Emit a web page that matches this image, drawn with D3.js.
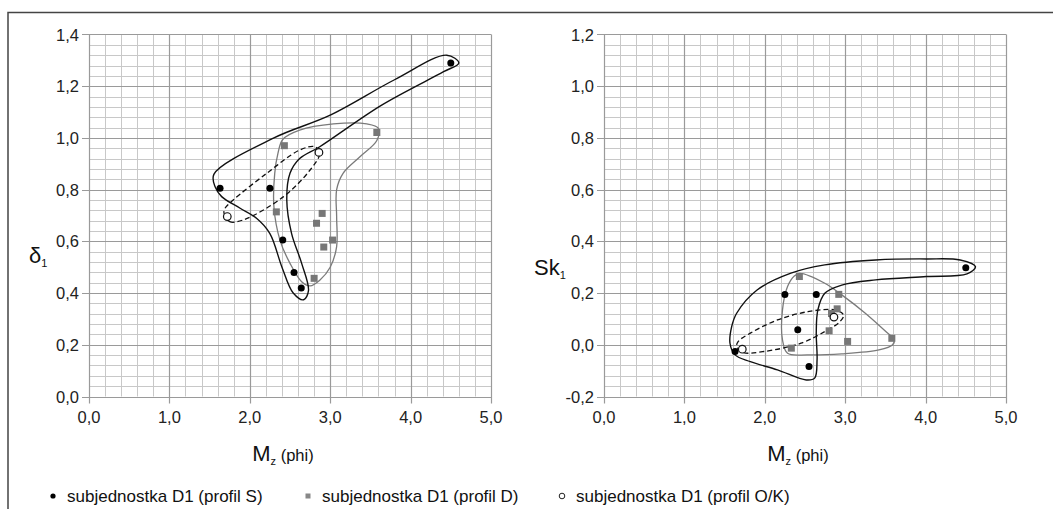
<!DOCTYPE html>
<html>
<head>
<meta charset="utf-8">
<script src="https://cdn.jsdelivr.net/npm/d3@7"></script>
<style>
  body { margin: 0; background: #fff; }
  svg { display: block; font-family: "Liberation Sans", Arial, sans-serif; }
  .tick-label { font-size: 16.5px; fill: #222; }
  .legend-text { font-size: 17px; fill: #111; }
</style>
</head>
<body>
<svg width="1053" height="509"></svg>
<script>
// values
// profil S (black dots)
const mzS = [1.63, 2.25, 2.41, 2.55, 2.64, 4.50];
const sortS = [0.805, 0.805, 0.605, 0.48, 0.42, 1.29];
const skewS = [-0.026, 0.194, 0.058, -0.084, 0.194, 0.298];

// profil D (grey squares)
const mzD = [2.43, 2.33, 2.83, 2.90, 3.03, 2.92, 2.80, 3.58];
const sortD = [0.97, 0.714, 0.67, 0.708, 0.605, 0.578, 0.457, 1.021];
const skewD = [0.264, -0.013, 0.121, 0.139, 0.013, 0.195, 0.054, 0.025];

// profil O/K (open circles)
const mzOK = [1.72, 2.86];
const sortOK = [0.696, 0.944];
const skewOK = [-0.017, 0.107];

// hand-drawn envelopes (Mz, value)
const envSortS = [[1.553, 0.859], [2.3, 1.0], [3.0, 1.088], [3.8, 1.225], [4.45, 1.32], [4.6, 1.29],
  [4.41, 1.256], [3.64, 1.127], [2.87, 0.966], [2.62, 0.92], [2.5, 0.863], [2.46, 0.76], [2.52, 0.63],
  [2.645, 0.515], [2.73, 0.41], [2.67, 0.374], [2.54, 0.40], [2.40, 0.50], [2.25, 0.63], [2.08, 0.69],
  [1.88, 0.728], [1.65, 0.773], [1.57, 0.81]];
const envSortD = [[2.41, 0.994], [2.62, 1.03], [3.04, 1.054], [3.455, 1.054], [3.60, 1.037], [3.58, 0.99],
  [3.37, 0.927], [3.16, 0.863], [3.08, 0.80], [3.08, 0.695], [3.08, 0.58], [3.0, 0.50], [2.87, 0.45],
  [2.75, 0.428], [2.645, 0.444], [2.50, 0.515], [2.375, 0.605], [2.30, 0.734], [2.31, 0.863], [2.35, 0.94]];
const envSortOK = [[1.68, 0.708], [1.75, 0.676], [1.92, 0.683], [2.42, 0.773], [2.75, 0.876], [2.87, 0.94],
  [2.81, 0.966], [2.62, 0.953], [2.21, 0.863], [1.794, 0.76], [1.69, 0.727]];

const envSkewS = [[1.65, 0.122], [1.904, 0.212], [2.325, 0.277], [2.746, 0.309], [3.378, 0.328], [4.01, 0.332],
  [4.43, 0.328], [4.62, 0.302], [4.515, 0.274], [4.01, 0.264], [3.378, 0.251], [2.957, 0.231], [2.746, 0.199],
  [2.66, 0.135], [2.64, 0.045], [2.65, -0.058], [2.62, -0.129], [2.515, -0.136], [2.157, -0.097],
  [1.82, -0.065], [1.63, -0.039], [1.567, 0.006], [1.588, 0.07]];
const envSkewD = [[2.435, 0.276], [2.746, 0.238], [2.957, 0.193], [3.25, 0.122], [3.505, 0.051], [3.61, 0.019],
  [3.59, 0.0], [3.42, -0.02], [2.957, -0.035], [2.536, -0.039], [2.283, -0.033], [2.22, 0.019],
  [2.22, 0.135], [2.283, 0.225], [2.367, 0.266]];
const envSkewOK = [[1.65, -0.007], [1.735, -0.03], [1.99, -0.026], [2.45, 0.006], [2.746, 0.051], [2.936, 0.09],
  [2.98, 0.115], [2.873, 0.135], [2.536, 0.128], [2.157, 0.096], [1.82, 0.045], [1.67, 0.013]];

const xTicks = [0, 1, 2, 3, 4, 5];
const legendLabels = ["subjednostka D1 (profil S)", "subjednostka D1 (profil D)", "subjednostka D1 (profil O/K)"];

const svg = d3.select("svg");

// outer frame (only left and top edges are in the crop)
svg.append("path")
  .attr("d", "M8,509V12.5H1053")
  .attr("fill", "none")
  .attr("stroke", "#444")
  .attr("stroke-width", 1.5);

const fmt = v => d3.format(".1f")(v).replace(".", ",").replace("−", "-");

const panels = [
  { left: 89, right: 491, yDomain: [0, 1.4], y: [sortS, sortD, sortOK],
    env: [envSortS, envSortD, envSortOK], title: "δ", titleX: 29, titleY: 263 },
  { left: 604, right: 1006, yDomain: [-0.2, 1.2], y: [skewS, skewD, skewOK],
    env: [envSkewS, envSkewD, envSkewOK], title: "Sk", titleX: 534, titleY: 275 }
];
const plotTop = 34.5, plotBottom = 396.5;

panels.forEach(function (p) {
  const x = d3.scaleLinear().domain([0, 5]).range([p.left, p.right]);
  const y = d3.scaleLinear().domain(p.yDomain).range([plotBottom, plotTop]);
  const g = svg.append("g");

  // minor grid
  const xMinor = d3.range(0, 5.0001, 0.2);
  const yMinor = d3.range(p.yDomain[0], p.yDomain[1] + 0.0001, 0.04);
  g.selectAll("line.xm").data(xMinor).enter().append("line")
    .attr("x1", d => Math.round(x(d)) + 0.5).attr("x2", d => Math.round(x(d)) + 0.5)
    .attr("y1", plotTop).attr("y2", plotBottom)
    .attr("stroke", "#c8c8c8").attr("stroke-width", 1);
  g.selectAll("line.ym").data(yMinor).enter().append("line")
    .attr("y1", d => Math.round(y(d)) + 0.5).attr("y2", d => Math.round(y(d)) + 0.5)
    .attr("x1", p.left).attr("x2", p.right)
    .attr("stroke", "#c8c8c8").attr("stroke-width", 1);

  // major grid
  const yMajor = d3.range(p.yDomain[0], p.yDomain[1] + 0.0001, 0.2);
  g.selectAll("line.xM").data(xTicks).enter().append("line")
    .attr("x1", d => Math.round(x(d)) + 0.5).attr("x2", d => Math.round(x(d)) + 0.5)
    .attr("y1", plotTop).attr("y2", plotBottom + 7)
    .attr("stroke", "#9a9a9a").attr("stroke-width", 1.2);
  g.selectAll("line.yM").data(yMajor).enter().append("line")
    .attr("y1", d => Math.round(y(d)) + 0.5).attr("y2", d => Math.round(y(d)) + 0.5)
    .attr("x1", p.left - 7).attr("x2", p.right)
    .attr("stroke", "#9a9a9a").attr("stroke-width", 1.2);

  // tick labels
  g.selectAll("text.yl").data(yMajor).enter().append("text")
    .attr("class", "tick-label")
    .attr("x", p.left - 10).attr("y", d => y(d) + 6)
    .attr("text-anchor", "end")
    .text(d => fmt(Math.round(d * 10) / 10));
  g.selectAll("text.xl").data(xTicks).enter().append("text")
    .attr("class", "tick-label")
    .attr("x", d => x(d)).attr("y", plotBottom + 26)
    .attr("text-anchor", "middle")
    .text(d => fmt(d));

  // axis titles
  const xt = g.append("text")
    .attr("x", (p.left + p.right) / 2 - 7).attr("y", 461)
    .attr("text-anchor", "middle").attr("fill", "#111");
  xt.append("tspan").attr("font-size", 22).text("M");
  xt.append("tspan").attr("font-size", 11).attr("dy", 4).text("z");
  xt.append("tspan").attr("font-size", 16.5).attr("dy", -4).text(" (phi)");

  const yt = g.append("text")
    .attr("x", p.titleX).attr("y", p.titleY).attr("fill", "#111");
  yt.append("tspan").attr("font-size", 22).text(p.title);
  yt.append("tspan").attr("font-size", 11).attr("dy", 4).text("1");

  // envelopes
  const line = d3.line()
    .x(d => x(d[0])).y(d => y(d[1]))
    .curve(d3.curveCatmullRomClosed.alpha(0.5));
  g.append("path").datum(p.env[1]).attr("d", line)
    .attr("fill", "none").attr("stroke", "#7a7a7a").attr("stroke-width", 1.3);
  g.append("path").datum(p.env[0]).attr("d", line)
    .attr("fill", "none").attr("stroke", "#111").attr("stroke-width", 1.4);
  g.append("path").datum(p.env[2]).attr("d", line)
    .attr("fill", "none").attr("stroke", "#111").attr("stroke-width", 1.3)
    .attr("stroke-dasharray", "5,3");

  // points
  g.selectAll("rect.d").data(mzD).enter().append("rect")
    .attr("x", (d, i) => x(d) - 3.5).attr("y", (d, i) => y(p.y[1][i]) - 3.5)
    .attr("width", 7).attr("height", 7).attr("fill", "#777");
  g.selectAll("circle.s").data(mzS).enter().append("circle")
    .attr("cx", d => x(d)).attr("cy", (d, i) => y(p.y[0][i]))
    .attr("r", 3.5).attr("fill", "#000");
  g.selectAll("circle.ok").data(mzOK).enter().append("circle")
    .attr("cx", d => x(d)).attr("cy", (d, i) => y(p.y[2][i]))
    .attr("r", 3.8).attr("fill", "#fff").attr("stroke", "#111").attr("stroke-width", 1.2);
});

// legend
const legendX = [53, 308, 562];
const lg = svg.append("g");
lg.append("circle").attr("cx", legendX[0]).attr("cy", 496).attr("r", 2.6).attr("fill", "#000");
lg.append("rect").attr("x", legendX[1] - 2.5).attr("y", 493.5).attr("width", 5).attr("height", 5).attr("fill", "#888");
lg.append("circle").attr("cx", legendX[2]).attr("cy", 496).attr("r", 2.8).attr("fill", "#fff")
  .attr("stroke", "#222").attr("stroke-width", 1);
lg.selectAll("text").data(legendLabels).enter().append("text")
  .attr("class", "legend-text")
  .attr("x", (d, i) => legendX[i] + 14).attr("y", 502)
  .text(d => d);
</script>
</body>
</html>
